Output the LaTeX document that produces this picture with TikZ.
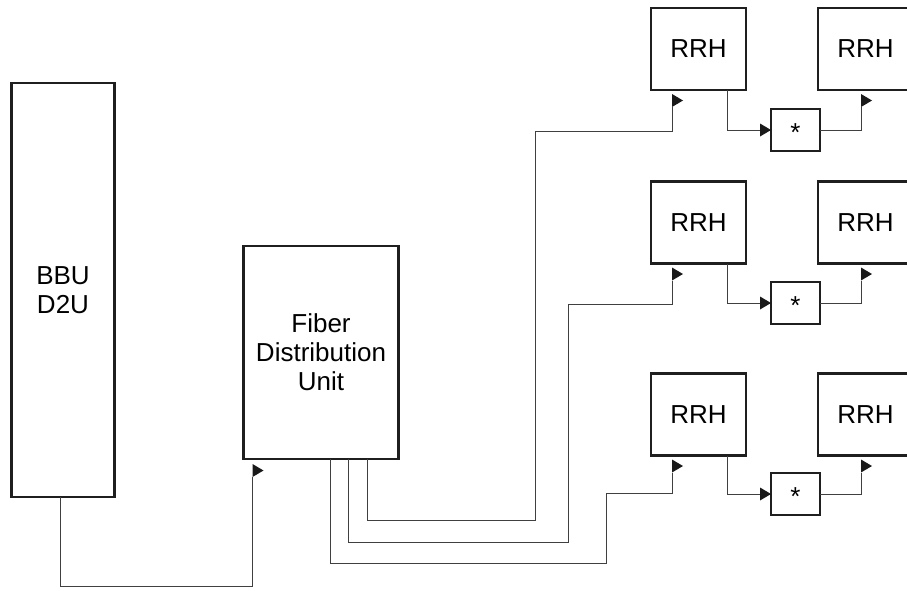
\documentclass[tikz,border=0pt]{standalone}
\usepackage{fontspec}
\setmainfont{Liberation Sans}
\usetikzlibrary{calc}

\def \boxline {2.6pt}
\def \rrhwidth {95pt}
\def \rrhheight {82pt}
\def \tipw {11}
\def \tiph {13}

% flag tip: sits on the end of a line going up
\newcommand{\flagtip}[1]{\fill[black!90] (#1) -- ++(0,-\tiph) -- ++(\tipw,\tiph/2) -- cycle;}
% head tip: points right, tip at the given point
\newcommand{\headtip}[1]{\fill[black!90] (#1) -- ++(-\tipw,-\tiph/2) -- ++(0,\tiph) -- cycle;}

\begin{document}
\begin{tikzpicture}[x=1pt, y=-1pt,
  unit/.style={draw=black!88, line width=\boxline, outer sep=0pt, inner sep=0pt,
    align=center, font=\fontsize{26}{29}\selectfont},
  rrh/.style={unit, minimum width=\rrhwidth, minimum height=\rrhheight},
  joint/.style={unit, minimum width=49pt, minimum height=42pt, text height=0pt, text depth=0pt},
  wire/.style={draw=black!75, line width=1pt}]
\clip (0,0) rectangle (907,590);

\node[unit, minimum width=103pt, minimum height=414pt] (bbu) at (63,290) {BBU\\D2U};
\node[unit, minimum width=155pt, minimum height=213pt] (fdu) at (321,352.5) {Fiber\\Distribution\\Unit};

% BBU -> FDU
\coordinate (fdu-in) at ($(fdu.south west)+(9,18)$);
\draw[wire] ($(bbu.south)+(-3,0)$) -- ++(0,89) -| (fdu-in);
\flagtip{fdu-in}

% row 1
\node[rrh] (rrh1a) at (698.5,49) {RRH};
\node[rrh] (rrh1b) at (865.5,49) {RRH};
\node[joint] (jnt1) at (795.5,130) {\raisebox{-0.43em}{*}};
\coordinate (in1) at ($(rrh1a.south west)+(21,17)$);
\draw[wire] ($(fdu.south)+(46,0)$) |- (535,520) -- (535,131) -| (in1);
\flagtip{in1}
\draw[wire] ($(rrh1a.south)+(28.5,0)$) |- ($(jnt1.west)+(-\tipw,0)$);
\headtip{jnt1.west}
\coordinate (out1) at ($(rrh1b.south west)+(43,17)$);
\draw[wire] (jnt1.east) -| (out1);
\flagtip{out1}

% row 2
\node[rrh] (rrh2a) at (698.5,222.5) {RRH};
\node[rrh] (rrh2b) at (865.5,222.5) {RRH};
\node[joint] (jnt2) at (795.5,303) {\raisebox{-0.43em}{*}};
\coordinate (in2) at ($(rrh2a.south west)+(21,17)$);
\draw[wire] ($(fdu.south)+(27,0)$) |- (568,542) -- (568,304) -| (in2);
\flagtip{in2}
\draw[wire] ($(rrh2a.south)+(28.5,0)$) |- ($(jnt2.west)+(-\tipw,0)$);
\headtip{jnt2.west}
\coordinate (out2) at ($(rrh2b.south west)+(43,17)$);
\draw[wire] (jnt2.east) -| (out2);
\flagtip{out2}

% row 3
\node[rrh] (rrh3a) at (698.5,414.5) {RRH};
\node[rrh] (rrh3b) at (865.5,414.5) {RRH};
\node[joint] (jnt3) at (795.5,494) {\raisebox{-0.43em}{*}};
\coordinate (in3) at ($(rrh3a.south west)+(21,17)$);
\draw[wire] ($(fdu.south)+(9,0)$) |- (606,563) -- (606,493) -| (in3);
\flagtip{in3}
\draw[wire] ($(rrh3a.south)+(28.5,0)$) |- ($(jnt3.west)+(-\tipw,0)$);
\headtip{jnt3.west}
\coordinate (out3) at ($(rrh3b.south west)+(43,17)$);
\draw[wire] (jnt3.east) -| (out3);
\flagtip{out3}
\end{tikzpicture}
\end{document}
